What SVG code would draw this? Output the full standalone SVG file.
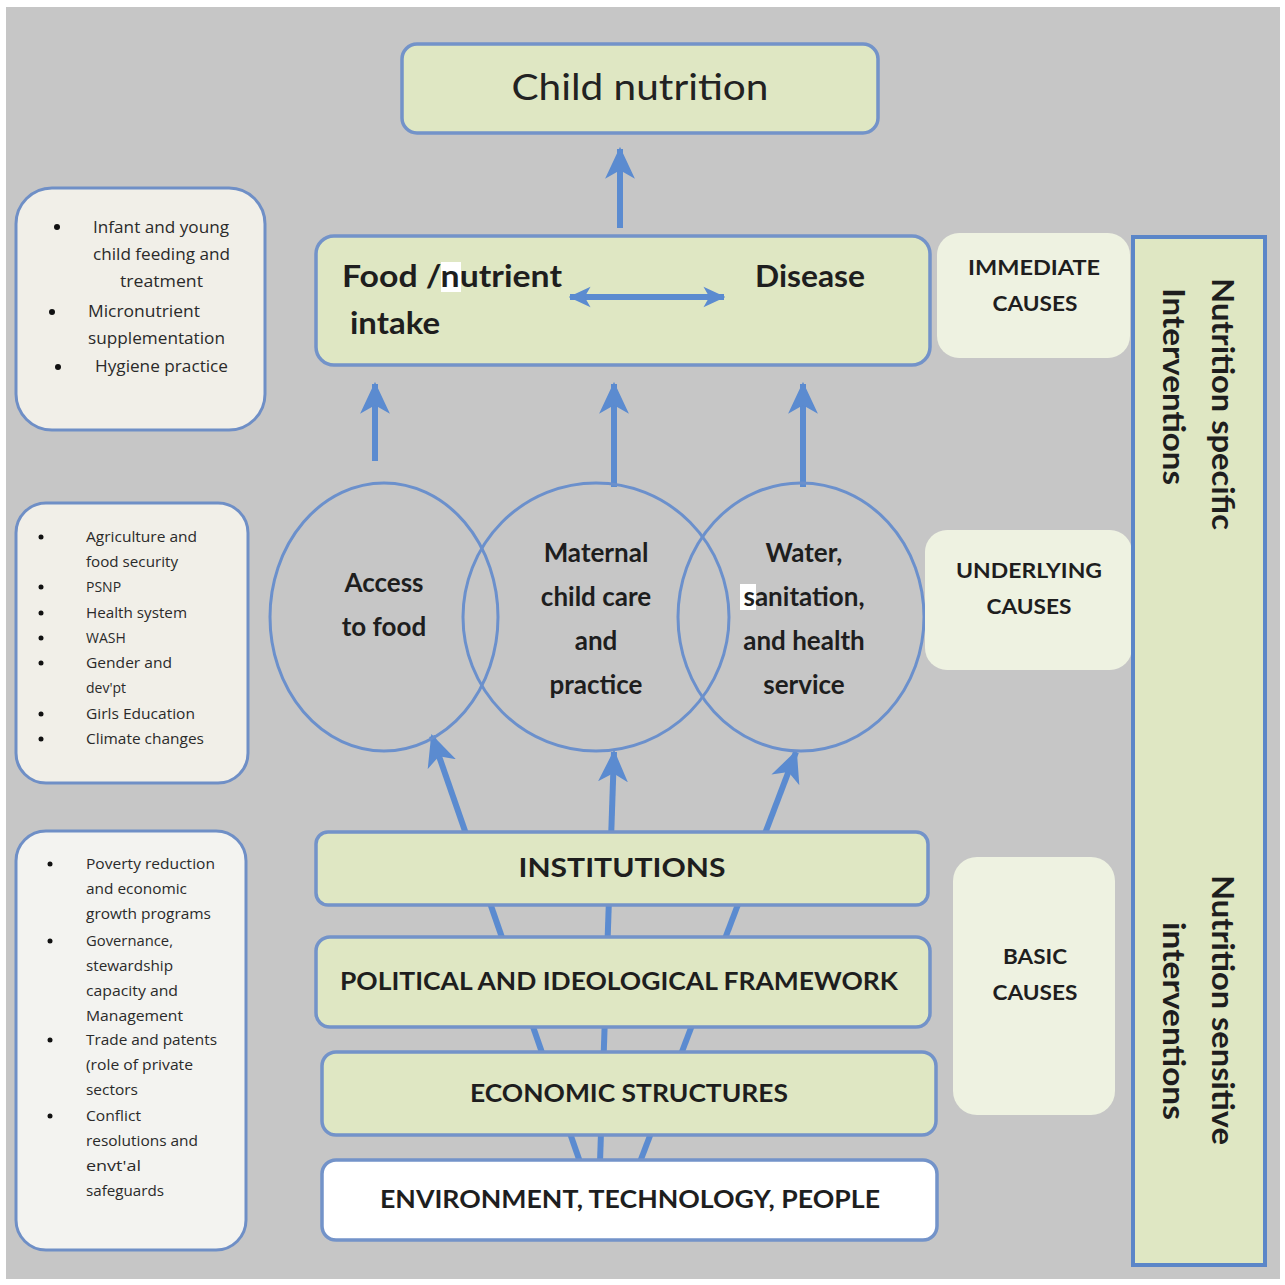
<svg xmlns="http://www.w3.org/2000/svg" width="1285" height="1285" viewBox="0 0 1285 1285">
<defs>
<style>
.bg{fill:#c6c6c6}
.gbox{fill:#dfe7c3;stroke:#7393c9;stroke-width:3.5}
.wbox{fill:#ffffff;stroke:#7393c9;stroke-width:3.5}
.lbox{fill:#f1efe8;stroke:#6f8fc6;stroke-width:3}
.cbox{fill:#eef2e1}
.circ{fill:none;stroke:#6b90cc;stroke-width:3}
.conn{stroke:#5b8bd0;stroke-width:6;fill:none}
.big{font-family:Lato,"Open Sans",sans-serif;fill:#222}
.b{font-family:Lato,"Open Sans",sans-serif;font-weight:bold;fill:#1e1e1e}
.sm{font-family:"Open Sans","Liberation Sans",sans-serif;fill:#2a2a2a}
.dot{fill:#111}
</style>
<marker id="ah" viewBox="0 0 30 30" markerWidth="32" markerHeight="32" markerUnits="userSpaceOnUse" refX="28" refY="15" orient="auto">
<path d="M0,1 L30,15 L0,29 L8,15 z" fill="#5b8bd0"/>
</marker>
<marker id="ah2" viewBox="0 0 30 30" markerWidth="22" markerHeight="22" markerUnits="userSpaceOnUse" refX="28" refY="15" orient="auto">
<path d="M0,1 L30,15 L0,29 L8,15 z" fill="#5b8bd0"/>
</marker>
<marker id="ah2s" viewBox="0 0 30 30" markerWidth="22" markerHeight="22" markerUnits="userSpaceOnUse" refX="28" refY="15" orient="auto-start-reverse">
<path d="M0,1 L30,15 L0,29 L8,15 z" fill="#5b8bd0"/>
</marker>
</defs>

<rect x="0" y="0" width="1285" height="1285" fill="#ffffff"/>
<rect class="bg" x="6" y="7" width="1274" height="1272"/>

<g id="connectors">
<line class="conn" x1="580" y1="1162" x2="432" y2="736" marker-end="url(#ah)"/>
<line class="conn" x1="600" y1="1162" x2="614" y2="752" marker-end="url(#ah)"/>
<line class="conn" x1="640" y1="1162" x2="796" y2="752" marker-end="url(#ah)"/>
<line class="conn" x1="375" y1="461" x2="375" y2="384" marker-end="url(#ah)"/>
<line class="conn" x1="614" y1="487" x2="614" y2="384" marker-end="url(#ah)"/>
<line class="conn" x1="803" y1="487" x2="803" y2="384" marker-end="url(#ah)"/>
<line class="conn" x1="620" y1="228" x2="620" y2="149" marker-end="url(#ah)"/>
</g>

<g id="child-nutrition">
<rect class="gbox" x="402" y="44" width="476" height="89" rx="15"/>
<text class="big" x="640" y="100" font-size="37" text-anchor="middle" textLength="257" lengthAdjust="spacingAndGlyphs">Child nutrition</text>
</g>

<g id="immediate">
<rect class="gbox" x="316" y="236" width="614" height="129" rx="18"/>
<rect x="441" y="262" width="20" height="30" fill="#ffffff"/>
<text class="b" x="342" y="287" font-size="30" textLength="220" lengthAdjust="spacingAndGlyphs">Food /nutrient</text>
<text class="b" x="350" y="334" font-size="30" textLength="90" lengthAdjust="spacingAndGlyphs">intake</text>
<text class="b" x="755" y="287" font-size="30" textLength="110" lengthAdjust="spacingAndGlyphs">Disease</text>
<line class="conn" x1="570" y1="297" x2="724" y2="297" stroke-width="5" marker-start="url(#ah2s)" marker-end="url(#ah2)"/>
</g>

<g id="access-food">
<ellipse class="circ" cx="384" cy="617" rx="114" ry="134"/>
<text class="b" x="384" y="592" font-size="26" text-anchor="middle">Access</text>
<text class="b" x="384" y="636" font-size="26" text-anchor="middle">to food</text>
</g>

<g id="maternal-care">
<ellipse class="circ" cx="596" cy="617" rx="133" ry="134"/>
<text class="b" x="596" y="562" font-size="26" text-anchor="middle">Maternal</text>
<text class="b" x="596" y="606" font-size="26" text-anchor="middle">child care</text>
<text class="b" x="596" y="650" font-size="26" text-anchor="middle">and</text>
<text class="b" x="596" y="694" font-size="26" text-anchor="middle">practice</text>
</g>

<g id="wash-health">
<ellipse class="circ" cx="801" cy="617" rx="123" ry="134"/>
<rect x="740" y="584" width="16" height="26" fill="#ffffff"/>
<text class="b" x="804" y="562" font-size="26" text-anchor="middle">Water,</text>
<text class="b" x="804" y="606" font-size="26" text-anchor="middle">sanitation,</text>
<text class="b" x="804" y="650" font-size="26" text-anchor="middle">and health</text>
<text class="b" x="804" y="694" font-size="26" text-anchor="middle">service</text>
</g>

<g id="institutions">
<rect class="gbox" x="316" y="832" width="612" height="73" rx="12"/>
<text class="b" x="622" y="877" font-size="27" text-anchor="middle" textLength="207" lengthAdjust="spacingAndGlyphs">INSTITUTIONS</text>
</g>

<g id="political">
<rect class="gbox" x="316" y="937" width="614" height="90" rx="14"/>
<text class="b" x="619" y="990" font-size="25" text-anchor="middle" textLength="558" lengthAdjust="spacingAndGlyphs">POLITICAL AND IDEOLOGICAL FRAMEWORK</text>
</g>

<g id="economic">
<rect class="gbox" x="322" y="1052" width="614" height="83" rx="14"/>
<text class="b" x="629" y="1102" font-size="25" text-anchor="middle" textLength="318" lengthAdjust="spacingAndGlyphs">ECONOMIC STRUCTURES</text>
</g>

<g id="environment">
<rect class="wbox" x="322" y="1160" width="615" height="80" rx="14"/>
<text class="b" x="630" y="1208" font-size="25" text-anchor="middle" textLength="500" lengthAdjust="spacingAndGlyphs">ENVIRONMENT, TECHNOLOGY, PEOPLE</text>
</g>

<g id="immediate-causes">
<rect class="cbox" x="937" y="233" width="193" height="125" rx="22"/>
<text class="b" x="1034" y="275" font-size="21" text-anchor="middle" textLength="132" lengthAdjust="spacingAndGlyphs">IMMEDIATE</text>
<text class="b" x="1035" y="311" font-size="21" text-anchor="middle" textLength="85" lengthAdjust="spacingAndGlyphs">CAUSES</text>
</g>

<g id="underlying-causes">
<rect class="cbox" x="925" y="530" width="207" height="140" rx="22"/>
<text class="b" x="1029" y="578" font-size="21" text-anchor="middle" textLength="146" lengthAdjust="spacingAndGlyphs">UNDERLYING</text>
<text class="b" x="1029" y="614" font-size="21" text-anchor="middle" textLength="85" lengthAdjust="spacingAndGlyphs">CAUSES</text>
</g>

<g id="basic-causes">
<rect class="cbox" x="953" y="857" width="162" height="258" rx="24"/>
<text class="b" x="1035" y="964" font-size="21" text-anchor="middle" textLength="64" lengthAdjust="spacingAndGlyphs">BASIC</text>
<text class="b" x="1035" y="1000" font-size="21" text-anchor="middle" textLength="85" lengthAdjust="spacingAndGlyphs">CAUSES</text>
</g>

<g id="interventions">
<rect x="1133" y="237" width="132" height="1028" fill="#dfe7c3" stroke="#5b86c8" stroke-width="4"/>
<text class="b" font-size="30" transform="translate(1212,278) rotate(90)" textLength="252" lengthAdjust="spacingAndGlyphs">Nutrition specific</text>
<text class="b" font-size="30" transform="translate(1163,288) rotate(90)" textLength="197" lengthAdjust="spacingAndGlyphs">Interventions</text>
<text class="b" font-size="30" transform="translate(1212,875) rotate(90)" textLength="270" lengthAdjust="spacingAndGlyphs">Nutrition sensitive</text>
<text class="b" font-size="30" transform="translate(1163,922) rotate(90)" textLength="198" lengthAdjust="spacingAndGlyphs">interventions</text>
</g>

<g id="specific-list">
<rect class="lbox" x="16" y="188" width="249" height="242" rx="36"/>
<circle class="dot" cx="57" cy="227" r="3"/>
<circle class="dot" cx="52" cy="312" r="3"/>
<circle class="dot" cx="58" cy="367" r="3"/>
<text class="sm" font-size="15.5">
<tspan x="93" y="233" textLength="136" lengthAdjust="spacingAndGlyphs">Infant and young</tspan>
<tspan x="93" y="260" textLength="137" lengthAdjust="spacingAndGlyphs">child feeding and</tspan>
<tspan x="120" y="287" textLength="83" lengthAdjust="spacingAndGlyphs">treatment</tspan>
<tspan x="88" y="317" textLength="112" lengthAdjust="spacingAndGlyphs">Micronutrient</tspan>
<tspan x="88" y="344" textLength="137" lengthAdjust="spacingAndGlyphs">supplementation</tspan>
<tspan x="95" y="372" textLength="133" lengthAdjust="spacingAndGlyphs">Hygiene practice</tspan>
</text>
</g>

<g id="sensitive-list">
<rect class="lbox" x="16" y="503" width="232" height="280" rx="30"/>
<circle class="dot" cx="41" cy="537" r="2.5"/>
<circle class="dot" cx="41" cy="587" r="2.5"/>
<circle class="dot" cx="41" cy="613" r="2.5"/>
<circle class="dot" cx="41" cy="638" r="2.5"/>
<circle class="dot" cx="41" cy="663" r="2.5"/>
<circle class="dot" cx="41" cy="714" r="2.5"/>
<circle class="dot" cx="41" cy="739" r="2.5"/>
<text class="sm" font-size="14">
<tspan x="86" y="542" textLength="111" lengthAdjust="spacingAndGlyphs">Agriculture and</tspan>
<tspan x="86" y="567" textLength="92" lengthAdjust="spacingAndGlyphs">food security</tspan>
<tspan x="86" y="592">PSNP</tspan>
<tspan x="86" y="618" textLength="101" lengthAdjust="spacingAndGlyphs">Health system</tspan>
<tspan x="86" y="643">WASH</tspan>
<tspan x="86" y="668" textLength="86" lengthAdjust="spacingAndGlyphs">Gender and</tspan>
<tspan x="86" y="693">dev'pt</tspan>
<tspan x="86" y="719" textLength="109" lengthAdjust="spacingAndGlyphs">Girls Education</tspan>
<tspan x="86" y="744" textLength="118" lengthAdjust="spacingAndGlyphs">Climate changes</tspan>
</text>
</g>

<g id="basic-list">
<rect x="16" y="831" width="230" height="419" rx="30" fill="#f3f3f0" stroke="#6f8fc6" stroke-width="3"/>
<circle class="dot" cx="50" cy="864" r="2.5"/>
<circle class="dot" cx="50" cy="941" r="2.5"/>
<circle class="dot" cx="50" cy="1040" r="2.5"/>
<circle class="dot" cx="50" cy="1116" r="2.5"/>
<text class="sm" font-size="14">
<tspan x="86" y="869" textLength="129" lengthAdjust="spacingAndGlyphs">Poverty reduction</tspan>
<tspan x="86" y="894" textLength="101" lengthAdjust="spacingAndGlyphs">and economic</tspan>
<tspan x="86" y="919" textLength="125" lengthAdjust="spacingAndGlyphs">growth programs</tspan>
<tspan x="86" y="946" textLength="87" lengthAdjust="spacingAndGlyphs">Governance,</tspan>
<tspan x="86" y="971" textLength="87" lengthAdjust="spacingAndGlyphs">stewardship</tspan>
<tspan x="86" y="996" textLength="92" lengthAdjust="spacingAndGlyphs">capacity and</tspan>
<tspan x="86" y="1021" textLength="97" lengthAdjust="spacingAndGlyphs">Management</tspan>
<tspan x="86" y="1045" textLength="131" lengthAdjust="spacingAndGlyphs">Trade and patents</tspan>
<tspan x="86" y="1070" textLength="107" lengthAdjust="spacingAndGlyphs">(role of private</tspan>
<tspan x="86" y="1095" textLength="52" lengthAdjust="spacingAndGlyphs">sectors</tspan>
<tspan x="86" y="1121" textLength="55" lengthAdjust="spacingAndGlyphs">Conflict</tspan>
<tspan x="86" y="1146" textLength="112" lengthAdjust="spacingAndGlyphs">resolutions and</tspan>
<tspan x="86" y="1171" textLength="55" lengthAdjust="spacingAndGlyphs">envt'al</tspan>
<tspan x="86" y="1196" textLength="78" lengthAdjust="spacingAndGlyphs">safeguards</tspan>
</text>
</g>
</svg>
